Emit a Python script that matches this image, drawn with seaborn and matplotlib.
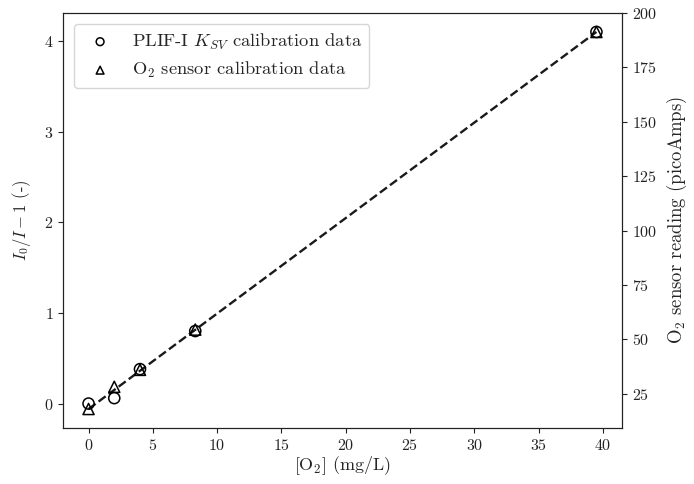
import matplotlib
matplotlib.use("Agg")
import matplotlib.pyplot as plt
import seaborn as sns
import pandas as pd

# Data
o2_conc = [0.0, 2.0, 4.0, 8.3, 39.5]           # [O2] (mg/L)
ksv_vals = [0.00, 0.06, 0.38, 0.80, 4.10]       # I0/I - 1
sensor_vals = [18.0, 28.2, 36.0, 54.5, 191.3]   # picoAmps
fit_x = [0.0, 39.5]
fit_y = [-0.06, 4.10]

sns.set_style("ticks")
plt.rcParams["font.family"] = ["cmr10", "DejaVu Serif"]
plt.rcParams["mathtext.fontset"] = "cm"
plt.rcParams["axes.formatter.use_mathtext"] = True
plt.rcParams["font.size"] = 11
plt.rcParams["axes.unicode_minus"] = False

df = pd.DataFrame({"x": o2_conc, "ksv": ksv_vals, "sensor": sensor_vals})
fit = pd.DataFrame({"x": fit_x, "y": fit_y})

fig = plt.figure(figsize=(6.94, 4.84), dpi=100)
ax = fig.add_subplot(111)
fig.subplots_adjust(left=0.091, right=0.896, top=0.973, bottom=0.116)

sns.lineplot(data=fit, x="x", y="y", ax=ax, color="#1a1a1a", linestyle="--",
             linewidth=1.7, legend=False)
sns.scatterplot(data=df, x="x", y="ksv", ax=ax, marker="o", s=64,
                facecolors="none", edgecolors="black", linewidth=1.1,
                label=r"PLIF-I $K_{SV}$ calibration data", zorder=3)
ax2 = ax.twinx()
sns.scatterplot(data=df, x="x", y="sensor", ax=ax2, marker="^", s=64,
                facecolors="none", edgecolors="black", linewidth=1.1,
                label=r"O$_2$ sensor calibration data", zorder=3)

ax.set_xlabel(r"[O$_2$] (mg/L)", fontsize=13, labelpad=1)
ax.set_ylabel(r"$I_0/I-1$ (-)", fontsize=12, labelpad=8)
ax2.set_ylabel(r"O$_2$ sensor reading (picoAmps)", fontsize=13.5, labelpad=6)

ax.set_xticks([0, 5, 10, 15, 20, 25, 30, 35, 40])
ax.set_yticks([0, 1, 2, 3, 4])
ax2.set_yticks([25, 50, 75, 100, 125, 150, 175, 200])

for a in (ax, ax2):
    a.tick_params(colors="#222222", labelsize=11.5)
    for s in a.spines.values():
        s.set_visible(True)
        s.set_color("#222222")

h1, l1 = ax.get_legend_handles_labels()
h2, l2 = ax2.get_legend_handles_labels()
if ax.get_legend() is not None:
    ax.get_legend().remove()
leg = ax2.legend(h1 + h2, l1 + l2, loc="upper left", markerscale=0.7,
                 frameon=True, fancybox=True, fontsize=13.3,
                 borderaxespad=0.6, labelspacing=0.45, handletextpad=0.7)
leg.get_frame().set_edgecolor("#cccccc")

fig.savefig("out.png", dpi=100)
